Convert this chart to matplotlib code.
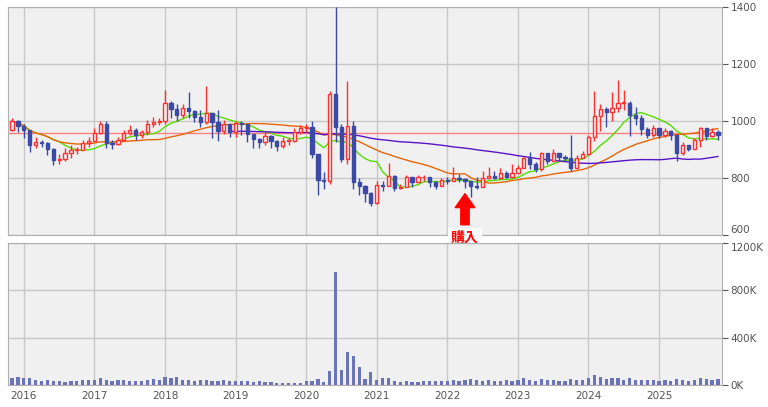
import matplotlib
matplotlib.use("Agg")
import matplotlib.pyplot as plt
import numpy as np
import pandas as pd

years = ["2016","2017","2018","2019","2020","2021","2022","2023","2024","2025"]
close = [1000, 983,
 968, 915, 927, 922, 902, 863, 866, 888, 898, 898, 922, 930,
 958, 990, 922, 918, 933, 958, 968, 951, 960, 988, 997, 1000,
 1063, 1042, 1021, 1046, 1035, 1014, 997, 1028, 997, 965, 990, 960,
 993, 990, 955, 937, 926, 947, 930, 912, 930, 930, 961, 975,
 979, 884, 793, 790, 1095, 980, 868, 983, 786, 772, 747, 712,
 775, 773, 806, 765, 767, 803, 785, 803, 803, 785, 773, 792,
 790, 800, 798, 788, 773, 767, 800, 806, 800, 817, 803, 817,
 835, 870, 850, 830, 888, 860, 888, 875, 870, 835, 870, 885,
 943, 1016, 1042, 1030, 1046, 1063, 1063, 1022, 1010, 972, 952, 975,
 952, 964, 950, 888, 915, 902, 935, 975, 947, 963, 950]
high = [1010, 1005,
 990, 970, 945, 935, 925, 905, 885, 905, 915, 910, 935, 945,
 975, 1000, 1000, 935, 945, 970, 985, 975, 970, 1005, 1015, 1010,
 1110, 1070, 1060, 1060, 1100, 1040, 1040, 1123, 1005, 1040, 1005, 990,
 1000, 1000, 970, 950, 940, 960, 950, 935, 945, 940, 975, 985,
 990, 1000, 880, 820, 1105, 1400, 990, 1140, 1000, 800, 775, 750,
 790, 790, 853, 810, 780, 810, 800, 810, 810, 800, 790, 800,
 805, 840, 815, 800, 790, 805, 825, 840, 825, 835, 825, 850,
 845, 875, 890, 855, 890, 880, 900, 885, 880, 950, 880, 895,
 950, 1104, 1060, 1050, 1100, 1143, 1108, 1070, 1050, 1020, 980, 985,
 965, 975, 970, 955, 925, 915, 940, 980, 970, 975, 970]
low = [965, 960,
 940, 890, 905, 910, 880, 845, 850, 860, 870, 885, 905, 910,
 930, 955, 905, 900, 915, 930, 950, 935, 940, 950, 980, 985,
 990, 1010, 1000, 1010, 1010, 995, 980, 990, 940, 930, 955, 945,
 945, 950, 925, 905, 905, 915, 905, 895, 905, 915, 925, 955,
 960, 870, 740, 760, 780, 925, 855, 850, 760, 740, 715, 700,
 710, 755, 775, 755, 760, 780, 770, 785, 790, 770, 760, 780,
 780, 790, 785, 765, 735, 760, 790, 795, 795, 795, 800, 810,
 820, 835, 830, 820, 825, 850, 860, 860, 860, 825, 830, 870,
 880, 930, 965, 980, 1000, 1030, 1040, 948, 985, 950, 940, 945,
 940, 945, 935, 860, 880, 895, 900, 910, 935, 945, 935]
volume_k = [60, 70,
 60, 55, 40, 35, 40, 35, 30, 25, 30, 35, 40, 45,
 45, 55, 40, 35, 45, 40, 35, 30, 35, 40, 50, 45,
 70, 60, 65, 40, 45, 35, 40, 45, 30, 35, 40, 30,
 30, 35, 30, 25, 30, 25, 25, 20, 20, 15, 15, 20,
 34, 34, 51, 26, 120, 951, 129, 283, 249, 154, 51, 111,
 43, 60, 60, 34, 26, 34, 26, 26, 30, 35, 30, 30,
 35, 40, 35, 45, 50, 40, 35, 40, 30, 35, 40, 30,
 40, 55, 45, 35, 50, 45, 40, 35, 35, 50, 40, 45,
 60, 85, 70, 50, 60, 55, 45, 60, 45, 40, 45, 40,
 35, 40, 35, 50, 40, 35, 40, 55, 50, 45, 50]
ref_price = 958
buy_index = 77
purple_start = 37

c = np.array(close, float)
o = np.r_[c[0] - 30, c[:-1]]
h = np.maximum(np.array(high, float), np.maximum(o, c))
l = np.minimum(np.array(low, float), np.minimum(o, c))
x = np.arange(len(c))
s = pd.Series(c)
ma_g = s.rolling(9, min_periods=1).mean()
ma_o = s.rolling(24, min_periods=1).mean()
ma_p = s.rolling(60, min_periods=1).mean()

BG = "#f0f0f0"; GRID = "#c8c8c8"; RED = "#ff3030"; BLUE = "#3a4aa6"
fig = plt.figure(figsize=(7.68, 4.07), dpi=100)
W, H = 768, 407
ax = fig.add_axes([8/W, 1-235/H, 714/W, 228/H])
av = fig.add_axes([8/W, 1-385/H, 714/W, 142/H], sharex=ax)
for a in (ax, av):
    a.set_facecolor(BG)
    a.grid(True, color=GRID, lw=1)
    a.set_axisbelow(True)
    for sp in a.spines.values():
        sp.set_color("#b0b0b0")
    a.yaxis.tick_right()
    a.tick_params(axis="y", colors="#555555", labelsize=7.5, length=4, pad=2)
    a.tick_params(axis="x", length=0)

xt = [2 + 12*i for i in range(len(years))]
ax.set_xticks(xt)
ax.tick_params(axis="x", labelbottom=False)
av.set_xticklabels(years)
av.tick_params(axis="x", colors="#555555", labelsize=7.5, pad=4)
ax.set_xlim(-0.7, len(c) - 0.3)
ax.set_ylim(600, 1400)
ax.set_yticks([600, 800, 1000, 1200, 1400])

ax.axhline(ref_price, color="#ff8080", lw=1, zorder=2)
ax.plot(x, ma_g, color="#55dd00", lw=1, zorder=3)
ax.plot(x, ma_o, color="#e8650a", lw=1, zorder=3)
ax.plot(x[purple_start:], ma_p[purple_start:], color="#5a14c8", lw=1, zorder=3)

w = 0.55
for i in range(len(c)):
    up = c[i] >= o[i]
    col = RED if up else BLUE
    ax.vlines(x[i], l[i], h[i], color=col, lw=1, zorder=4)
    bot = min(o[i], c[i]); ht = max(abs(c[i]-o[i]), 2)
    ax.bar(x[i], ht, bottom=bot, width=w, facecolor=BG if up else BLUE,
           edgecolor=col, lw=1, zorder=5)

ax.annotate("", xy=(buy_index, 745), xytext=(buy_index, 636),
            arrowprops=dict(facecolor="#ff0000", edgecolor="#ff0000", width=6, headwidth=14, headlength=10),
            zorder=6, annotation_clip=False)
ax.text(buy_index, 590, "購入", color="#ff0000", fontsize=10, fontweight="bold",
        family=["Noto Sans CJK JP", "DejaVu Sans"], ha="center", va="center",
        bbox=dict(facecolor="white", edgecolor="none", pad=2), clip_on=False, zorder=7)

av.bar(x, volume_k, width=0.55, color="#6b74b8", zorder=3)
av.set_ylim(0, 1200)
av.set_yticks([0, 400, 800, 1200])
av.set_yticklabels(["0K", "400K", "800K", "1200K"])

fig.canvas.draw()
ax.get_yticklabels()[0].set_verticalalignment("bottom")
av.get_yticklabels()[-1].set_verticalalignment("top")

fig.savefig("out.png", dpi=100, facecolor="white")
